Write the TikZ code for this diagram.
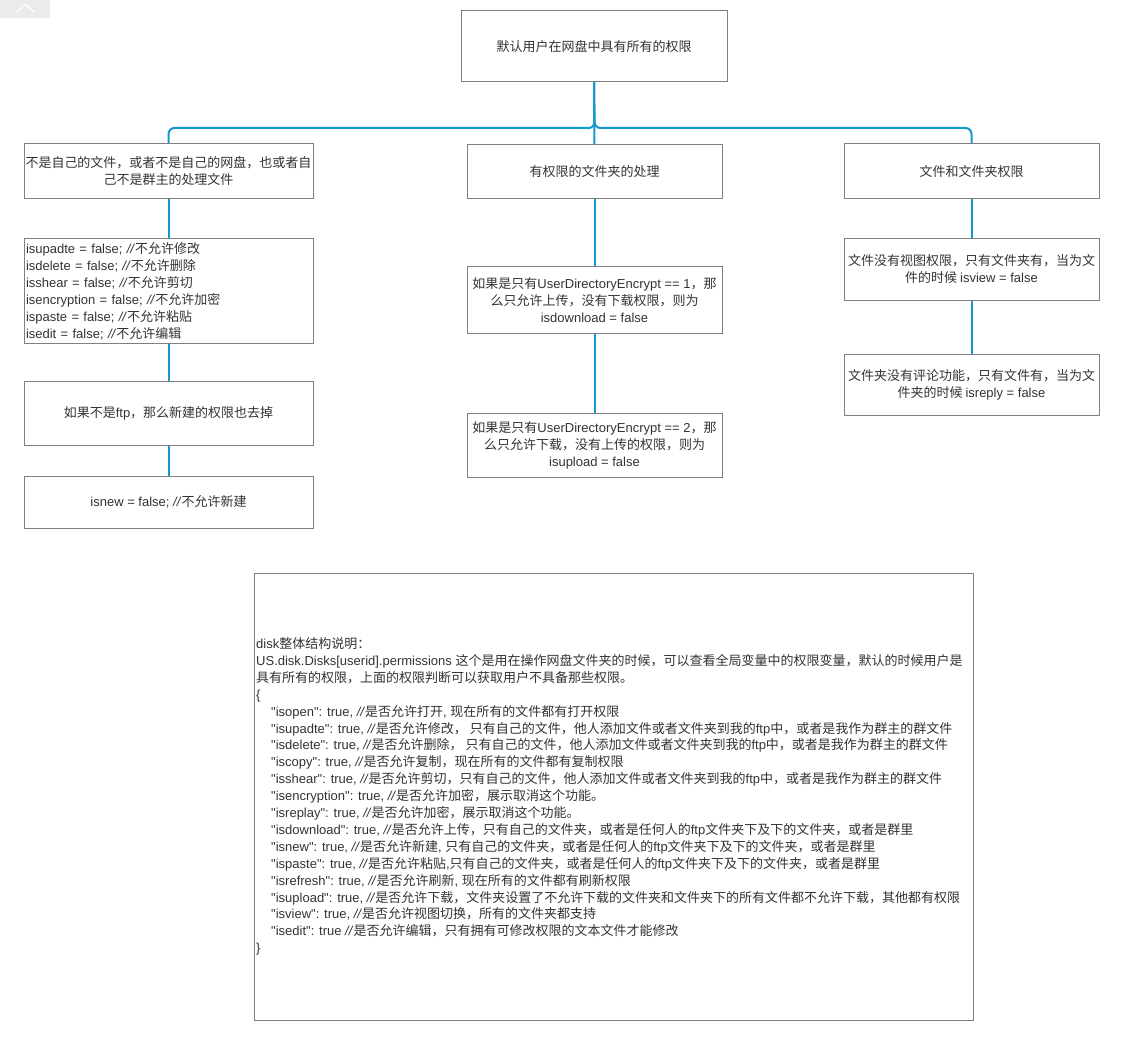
\documentclass[tikz,border=0pt]{standalone}
\usepackage{fontspec}
\usetikzlibrary{backgrounds}
\setmainfont{Liberation Sans}
\newfontfamily\latinfont{Liberation Sans}
\newfontfamily\cjkfont{Noto Sans CJK SC}
\XeTeXinterchartokenstate=1
\newXeTeXintercharclass\cjkclass
\newcount\cc
\def\setcjkrange#1#2{\cc=#1\relax\loop\XeTeXcharclass\cc=\cjkclass\relax\ifnum\cc<#2\relax\advance\cc by 1\relax\repeat}
\setcjkrange{"3000}{"303F}
\setcjkrange{"4E00}{"9FFF}
\setcjkrange{"FF00}{"FFEF}
\XeTeXinterchartoks 0 \cjkclass = {\cjkfont}
\XeTeXinterchartoks 4095 \cjkclass = {\cjkfont}
\XeTeXinterchartoks \cjkclass 0 = {\latinfont}
\XeTeXinterchartoks 4095 0 = {\latinfont}
\newcommand\cmt{\textit{//}}
\newcommand\ind{\hspace*{15pt}}
\definecolor{bordergray}{HTML}{808080}
\definecolor{txtgray}{HTML}{333333}
\definecolor{connblue}{HTML}{1399CE}
\definecolor{iconbg}{HTML}{EBEBEB}
\tikzset{
  box/.style={draw=bordergray, line width=1pt, fill=white, text=txtgray,
    inner sep=1pt, outer sep=0pt, font=\fontsize{13}{17}\selectfont, align=center},
  plain/.style={text=txtgray, inner sep=0pt, font=\fontsize{13}{17}\selectfont, align=left},
  conn/.style={draw=connblue, line width=2pt},
}
\begin{document}
\begin{tikzpicture}[x=1pt, y=-1pt]
\useasboundingbox (0,0) rectangle (1133,1043);
% top-left icon
\node[fill=iconbg, minimum width=50pt, minimum height=18pt, inner sep=0pt, anchor=north west] (icon) at (0,0) {};
\draw[white, line width=1.3pt] ([xshift=-9pt,yshift=-3pt]icon.center) -- ([yshift=5pt]icon.center) -- ([xshift=9pt,yshift=-3pt]icon.center);

% boxes
\node[box, minimum width=266pt, minimum height=71pt] (top) at (594,46.5) {默认用户在网盘中具有所有的权限};

\node[box, minimum width=289pt, minimum height=55pt] (L1) at (168.5,171.5) {不是自己的文件，或者不是自己的网盘，也或者自\\己不是群主的处理文件};
\node[box, minimum width=289pt, minimum height=104pt, text width=285pt, inner sep=2pt, align=left] (L2) at (168.5,291) {isupadte = false; \cmt{}不允许修改\\isdelete = false; \cmt{}不允许删除\\isshear = false; \cmt{}不允许剪切\\isencryption = false; \cmt{}不允许加密\\ispaste = false; \cmt{}不允许粘贴\\isedit = false; \cmt{}不允许编辑};
\node[box, minimum width=289pt, minimum height=64pt] (L3) at (168.5,413) {如果不是ftp，那么新建的权限也去掉};
\node[box, minimum width=289pt, minimum height=52pt] (L4) at (168.5,502) {isnew = false; \cmt{}不允许新建};

\node[box, minimum width=255pt, minimum height=54pt] (M1) at (594.5,172) {有权限的文件夹的处理};
\node[box, minimum width=255pt, minimum height=66pt] (M2) at (594.5,300) {如果是只有UserDirectoryEncrypt == 1，那\\么只允许上传，没有下载权限，则为\\isdownload = false};
\node[box, minimum width=255pt, minimum height=64pt] (M3) at (594.5,445) {如果是只有UserDirectoryEncrypt == 2，那\\么只允许下载，没有上传的权限，则为\\isupload = false};

\node[box, minimum width=255pt, minimum height=55pt] (R1) at (971.5,171.5) {文件和文件夹权限};
\node[box, minimum width=255pt, minimum height=61pt] (R2) at (971.5,269.5) {文件没有视图权限，只有文件夹有，当为文\\件的时候 isview = false};
\node[box, minimum width=255pt, minimum height=61pt] (R3) at (971.5,384.5) {文件夹没有评论功能，只有文件有，当为文\\件夹的时候 isreply = false};

% connectors (behind the boxes)
\begin{scope}[on background layer]
\coordinate (hub) at (594.5,128);
\draw[conn, rounded corners=6pt] (top.south) -- (hub) -| (L1.north);
\draw[conn, rounded corners=6pt] (top.south) -- (hub) -| (R1.north);
\draw[conn] (top.south) -- (M1.north);
\draw[conn] (L1.south) -- (L2.north);
\draw[conn] (L2.south) -- (L3.north);
\draw[conn] (L3.south) -- (L4.north);
\draw[conn] (M1.south) -- (M2.north);
\draw[conn] (M2.south) -- (M3.north);
\draw[conn] (R1.south) -- (R2.north);
\draw[conn] (R2.south) -- (R3.north);
\end{scope}

% bottom box
\node[box, minimum width=719pt, minimum height=447pt] (B) at (613.5,796.5) {};
\node[plain, anchor=west, font=\fontsize{13}{16.9}\selectfont] (Btext) at ([xshift=2pt]B.west) {disk整体结构说明：\\
US.disk.Disks[userid].permissions 这个是用在操作网盘文件夹的时候，可以查看全局变量中的权限变量，默认的时候用户是\\
具有所有的权限，上面的权限判断可以获取用户不具备那些权限。\\
\{\\
\ind{}"isopen": true, \cmt{}是否允许打开, 现在所有的文件都有打开权限\\
\ind{}"isupadte": true, \cmt{}是否允许修改， 只有自己的文件，他人添加文件或者文件夹到我的ftp中，或者是我作为群主的群文件\\
\ind{}"isdelete": true, \cmt{}是否允许删除， 只有自己的文件，他人添加文件或者文件夹到我的ftp中，或者是我作为群主的群文件\\
\ind{}"iscopy": true, \cmt{}是否允许复制，现在所有的文件都有复制权限\\
\ind{}"isshear": true, \cmt{}是否允许剪切，只有自己的文件，他人添加文件或者文件夹到我的ftp中，或者是我作为群主的群文件\\
\ind{}"isencryption": true, \cmt{}是否允许加密，展示取消这个功能。\\
\ind{}"isreplay": true, \cmt{}是否允许加密，展示取消这个功能。\\
\ind{}"isdownload": true, \cmt{}是否允许上传，只有自己的文件夹，或者是任何人的ftp文件夹下及下的文件夹，或者是群里\\
\ind{}"isnew": true, \cmt{}是否允许新建, 只有自己的文件夹，或者是任何人的ftp文件夹下及下的文件夹，或者是群里\\
\ind{}"ispaste": true, \cmt{}是否允许粘贴,只有自己的文件夹，或者是任何人的ftp文件夹下及下的文件夹，或者是群里\\
\ind{}"isrefresh": true, \cmt{}是否允许刷新, 现在所有的文件都有刷新权限\\
\ind{}"isupload": true, \cmt{}是否允许下载，文件夹设置了不允许下载的文件夹和文件夹下的所有文件都不允许下载，其他都有权限\\
\ind{}"isview": true, \cmt{}是否允许视图切换，所有的文件夹都支持\\
\ind{}"isedit": true \cmt{}是否允许编辑，只有拥有可修改权限的文本文件才能修改\\
\}};
\end{tikzpicture}
\end{document}
